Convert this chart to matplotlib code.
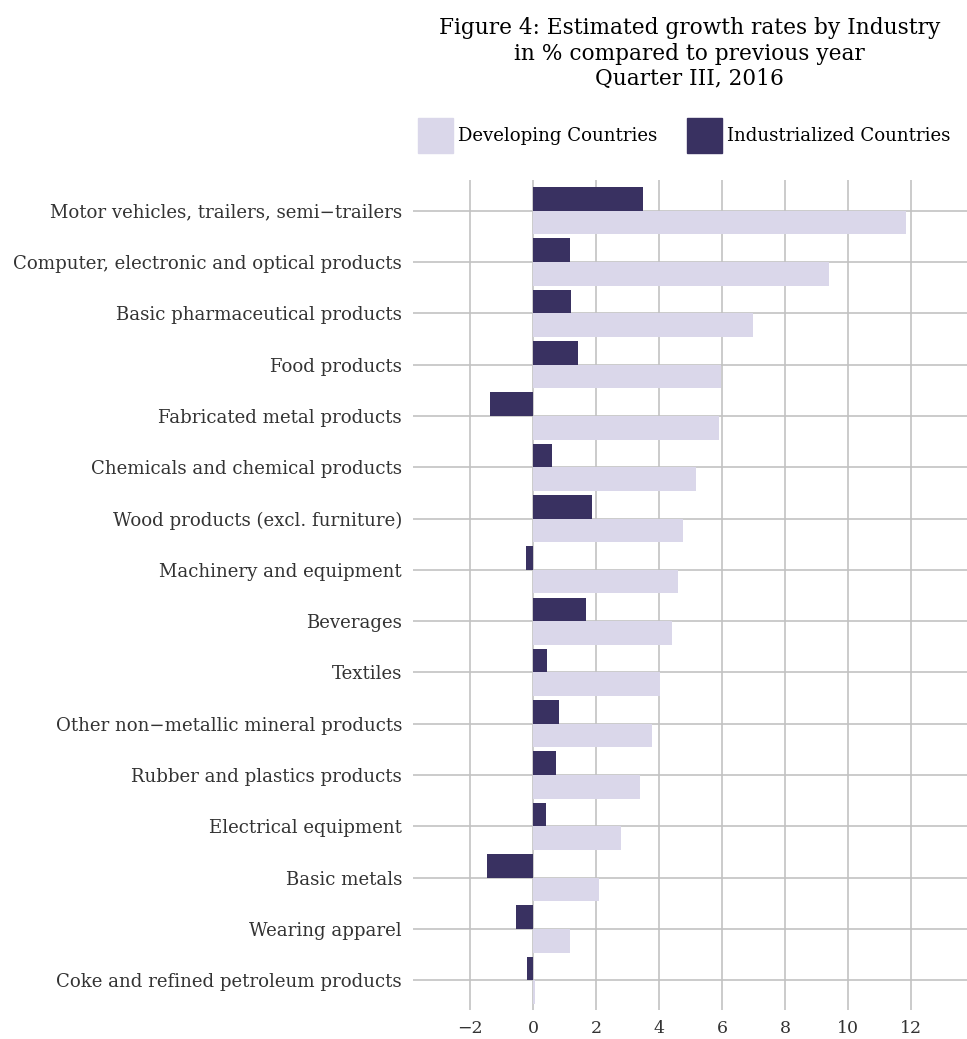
import matplotlib.pyplot as plt
import numpy as np

industries = [
    'Motor vehicles, trailers, semi\u2212trailers',
    'Computer, electronic and optical products',
    'Basic pharmaceutical products',
    'Food products',
    'Fabricated metal products',
    'Chemicals and chemical products',
    'Wood products (excl. furniture)',
    'Machinery and equipment',
    'Beverages',
    'Textiles',
    'Other non\u2212metallic mineral products',
    'Rubber and plastics products',
    'Electrical equipment',
    'Basic metals',
    'Wearing apparel',
    'Coke and refined petroleum products',
]
developing = [11.83, 9.40, 6.97, 5.97, 5.92, 5.16, 4.75, 4.60, 4.40, 4.04,
              3.77, 3.39, 2.81, 2.09, 1.17, 0.05]
industrialized = [3.48, 1.17, 1.20, 1.43, -1.36, 0.60, 1.87, -0.22, 1.68, 0.44,
                  0.82, 0.73, 0.41, -1.46, -0.54, -0.19]
xticks = [-2, 0, 2, 4, 6, 8, 10, 12]

dark = '#393161'
light = '#dad7ea'
grid_col = '#c2c2c2'
serif = ['DejaVu Serif']

fig = plt.figure(figsize=(9.67, 10.39), dpi=100)
ax = fig.add_axes([413 / 967, 1 - 1010 / 1039, 1 - 413 / 967, (1010 - 180) / 1039])

y = np.arange(len(industries))
h = 0.46
ax.barh(y - h / 2, industrialized, height=h, color=dark, zorder=2)
ax.barh(y + h / 2, developing, height=h, color=light, zorder=2)

ax.set_xlim(-3.81, 13.78)
ax.set_ylim(15.58, -0.6)
ax.set_xticks(xticks)
ax.set_xticklabels([str(t).replace('-', '\u2212') for t in xticks],
                   family=serif, fontsize=12.5, color='#333333')
ax.set_yticks(y)
ax.set_yticklabels(industries, family=serif, fontsize=13.1, color='#333333')
ax.tick_params(axis='y', length=0, pad=8)
ax.tick_params(axis='x', length=0, pad=7)
ax.grid(True, color=grid_col, lw=1.2)
ax.set_axisbelow(True)
for s in ax.spines.values():
    s.set_visible(False)

fig.text(0.713, 1 - 28 / 1039, 'Figure 4: Estimated growth rates by Industry',
         ha='center', va='center', family=serif, fontsize=15.6)
fig.text(0.713, 1 - 54 / 1039, 'in % compared to previous year',
         ha='center', va='center', family=serif, fontsize=15.6)
fig.text(0.713, 1 - 79 / 1039, 'Quarter III, 2016',
         ha='center', va='center', family=serif, fontsize=15.6)

# legend
for x0, col, lab in [(418, light, 'Developing Countries'),
                     (687, dark, 'Industrialized Countries')]:
    fig.patches.append(plt.Rectangle((x0 / 967, 1 - 153 / 1039), 35 / 967, 35 / 1039,
                                     transform=fig.transFigure, color=col))
    fig.text((x0 + 40) / 967, 1 - 136 / 1039, lab, ha='left', va='center',
             family=serif, fontsize=13.1)

fig.savefig('out.png', dpi=100)
